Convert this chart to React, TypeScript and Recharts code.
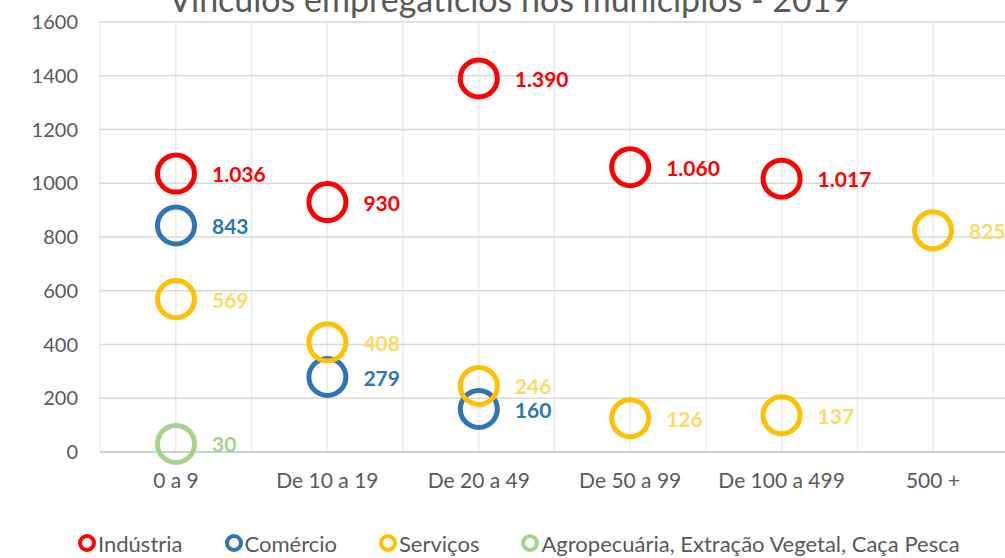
import { LineChart, Line, XAxis, YAxis, CartesianGrid, Legend, LabelList } from 'recharts';

const categories = ['0 a 9', 'De 10 a 19', 'De 20 a 49', 'De 50 a 99', 'De 100 a 499', '500 +'];
const industria = [1036, 930, 1390, 1060, 1017, null];
const comercio = [843, 279, 160, null, null, null];
const servicos = [569, 408, 246, 126, 137, 825];
const agropecuaria = [30, null, null, null, null, null];
const yTicks = [0, 200, 400, 600, 800, 1000, 1200, 1400, 1600];

const series = [
  { key: 'industria', name: 'Indústria', values: industria, color: '#FF0000', labelColor: '#FF0000' },
  { key: 'comercio', name: 'Comércio', values: comercio, color: '#2E75B6', labelColor: '#2E75B6' },
  { key: 'servicos', name: 'Serviços', values: servicos, color: '#FFC000', labelColor: '#FFD966' },
  { key: 'agro', name: 'Agropecuária, Extração Vegetal, Caça Pesca', values: agropecuaria, color: '#A9D18E', labelColor: '#A9D18E' },
];

const chartData = categories.map((c, i) => {
  const row: Record<string, string | number | null> = { category: c };
  series.forEach((s) => {
    row[s.key] = s.values[i];
  });
  return row;
});

const FONT = 'Lato, "Liberation Sans", sans-serif';
const TEXT = '#595959';

const fmt = (v: number) => String(v).replace(/\B(?=(\d{3})+(?!\d))/g, '.');

const ringDot = (color: string) => (props: any) => {
  const { cx, cy, value, index } = props;
  if (value == null || cy == null || Number.isNaN(cy)) return <g key={`d-${index}`} />;
  return <circle key={`d-${index}`} cx={cx} cy={cy} r={18.5} fill="none" stroke={color} strokeWidth={5} />;
};

const sideLabel = (color: string) => (props: any) => {
  const { x, y, value } = props;
  if (value == null || y == null) return null;
  return (
    <text x={x + 36} y={y} dominantBaseline="central" fill={color} fontFamily={FONT} fontWeight={700} fontSize={21}>
      {fmt(value)}
    </text>
  );
};

const renderLegend = () => (
  <div style={{ display: 'flex', alignItems: 'center', height: 30, paddingLeft: 77, fontFamily: FONT, fontSize: 22, color: TEXT }}>
    {series.map((s) => (
      <div key={s.key} style={{ display: 'flex', alignItems: 'center', marginRight: 41 }}>
        <svg width={20} height={20} style={{ marginRight: 1 }}>
          <circle cx={10} cy={10} r={7} fill="none" stroke={s.color} strokeWidth={4} />
        </svg>
        <span>{s.name}</span>
      </div>
    ))}
  </div>
);

export default function App() {
  return (
    <div style={{ position: 'absolute', left: 0, top: 0, width: 1005, height: 558, overflow: 'hidden', background: '#fff' }}>
      <div
        style={{
          position: 'absolute',
          left: 0,
          top: -18,
          width: 1020,
          textAlign: 'center',
          fontFamily: FONT,
          fontSize: 34,
          lineHeight: '34px',
          color: TEXT,
          zIndex: 2,
        }}
      >
        Vínculos empregatícios nos municípios - 2019
      </div>
      <LineChart width={1012} height={558} data={chartData} margin={{ top: 22, right: 3, bottom: 0, left: 0 }}>
        <CartesianGrid
          horizontal={false}
          stroke="#ececec"
          strokeWidth={1.5}
          verticalCoordinatesGenerator={({ offset }: any) =>
            Array.from({ length: 13 }, (_, i) => offset.left + (i * offset.width) / 12)
          }
        />
        <CartesianGrid vertical={false} stroke="#d9d9d9" strokeWidth={1.5} />
        <XAxis
          dataKey="category"
          scale="point"
          padding={{ left: 76, right: 76 }}
          height={76}
          axisLine={{ stroke: '#d0d0d0', strokeWidth: 2 }}
          tickLine={false}
          tickSize={0}
          tickMargin={21}
          tick={{ fill: TEXT, fontFamily: FONT, fontSize: 21 }}
          interval={0}
        />
        <YAxis
          domain={[0, 1600]}
          ticks={yTicks}
          width={100}
          axisLine={false}
          tickLine={false}
          tickSize={0}
          tickMargin={22}
          tick={{ fill: TEXT, fontFamily: FONT, fontSize: 20 }}
        />
        <Legend verticalAlign="bottom" content={renderLegend} wrapperStyle={{ left: 0, width: 1012 }} />
        {series.map((s) => (
          <Line
            key={s.key}
            dataKey={s.key}
            name={s.name}
            stroke="none"
            strokeWidth={0}
            dot={ringDot(s.color)}
            activeDot={false}
            isAnimationActive={false}
          >
            <LabelList dataKey={s.key} content={sideLabel(s.labelColor)} />
          </Line>
        ))}
      </LineChart>
    </div>
  );
}
